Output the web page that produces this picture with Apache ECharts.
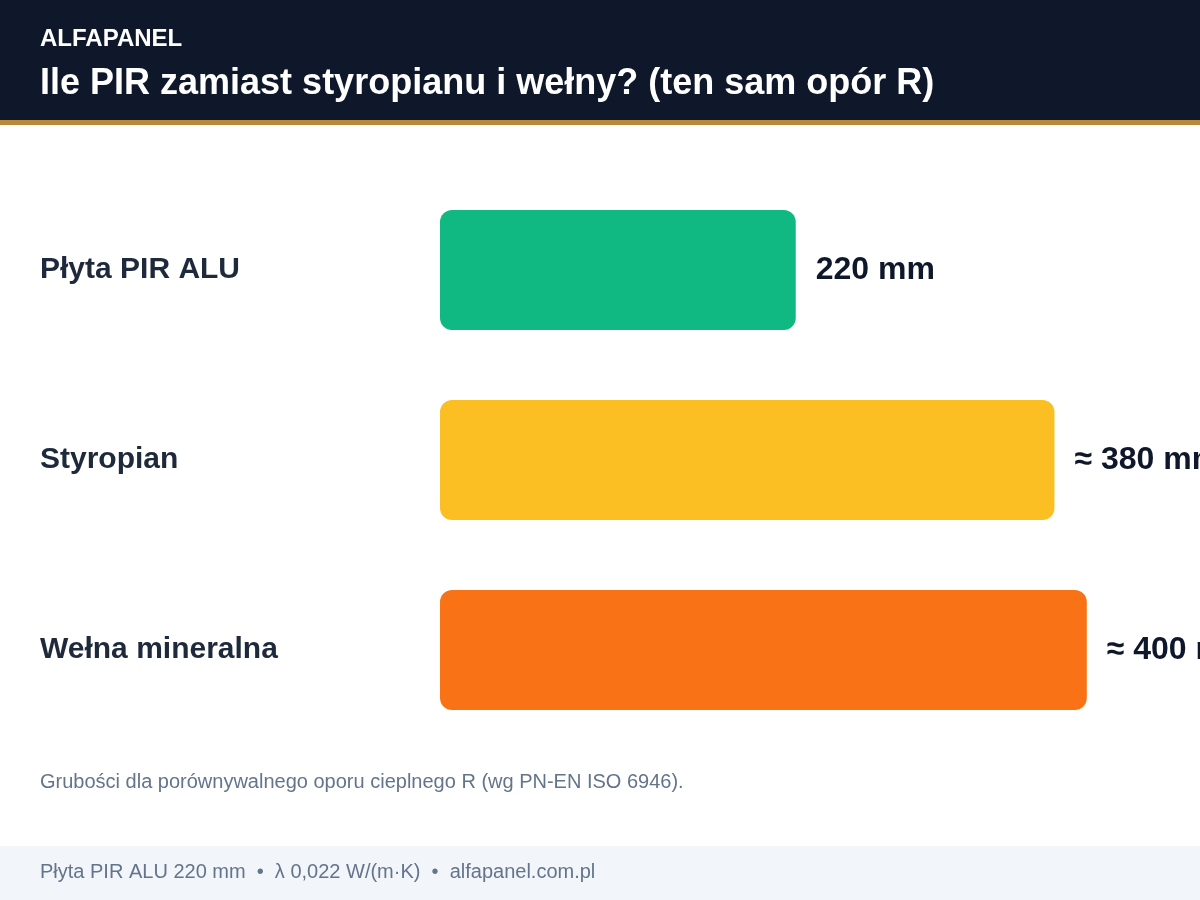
<!DOCTYPE html>
<html>
<head>
<meta charset="utf-8">
<script src="https://cdn.jsdelivr.net/npm/echarts@6/dist/echarts.min.js"></script>
<style>
  html, body { margin: 0; padding: 0; background: #fff; }
  #chart { width: 1200px; height: 900px; }
</style>
</head>
<body>
<div id="chart"></div>
<script>
  // dane
  const categories = ['Płyta PIR ALU', 'Styropian', 'Wełna mineralna']
  const thickness = [220, 380, 400]
  const valueLabels = ['220 mm', '≈ 380 mm', '≈ 400 mm']
  const barColors = ['#10b981', '#fbbf24', '#f97316']

  const font = 'Arial, Liberation Sans, Helvetica, sans-serif'

  const myChart = echarts.init(document.getElementById('chart'))

  let option = {
    backgroundColor: '#ffffff',
    textStyle: { fontFamily: font },
    graphic: [
      // pasek nagłówka
      { type: 'rect', left: 0, top: 0, shape: { width: 1200, height: 120 }, style: { fill: '#0f182b' }, z: 0 },
      { type: 'rect', left: 0, top: 120, shape: { width: 1200, height: 5 }, style: { fill: '#b8893a' }, z: 0 },
      { type: 'text', left: 40, top: 27, style: { text: 'ALFAPANEL', fill: '#ffffff', font: 'bold 24px ' + font }, z: 1 },
      { type: 'text', left: 40, top: 66, style: { text: 'Ile PIR zamiast styropianu i wełny? (ten sam opór R)', fill: '#ffffff', font: 'bold 36px ' + font }, z: 1 },
      // przypis
      { type: 'text', left: 40, top: 772, style: { text: 'Grubości dla porównywalnego oporu cieplnego R (wg PN-EN ISO 6946).', fill: '#64748b', font: '20px ' + font } },
      // stopka
      { type: 'rect', left: 0, top: 846, shape: { width: 1200, height: 54 }, style: { fill: '#f2f5f9' }, z: 0 },
      { type: 'text', left: 40, top: 862, style: { text: 'Płyta PIR ALU 220 mm  •  λ 0,022 W/(m·K)  •  alfapanel.com.pl', fill: '#64748b', font: '20px ' + font }, z: 1 }
    ],
    grid: {
      left: 440,
      right: 0,
      top: 175,
      height: 570
    },
    xAxis: {
      type: 'value',
      min: 0,
      max: 470,
      show: false
    },
    yAxis: {
      type: 'category',
      inverse: true,
      data: categories,
      axisLine: { show: false },
      axisTick: { show: false },
      splitLine: { show: false },
      axisLabel: {
        align: 'left',
        margin: 400,
        padding: [4, 0, 0, 0],
        color: '#1e293b',
        fontSize: 30,
        fontWeight: 'bold',
        fontFamily: font
      }
    },
    series: [
      {
        type: 'bar',
        barWidth: 120,
        data: thickness.map((v, i) => ({
          value: v,
          itemStyle: { color: barColors[i], borderRadius: 12 }
        })),
        label: {
          show: true,
          position: 'right',
          distance: 20,
          padding: [4, 0, 0, 0],
          color: '#0f172a',
          fontSize: 32,
          fontWeight: 'bold',
          fontFamily: font,
          formatter: (p) => valueLabels[p.dataIndex]
        },
        silent: true
      }
    ]
  }

  myChart.setOption(option)
  window.addEventListener('resize', () => {
    myChart && myChart.resize()
  })
</script>
</body>
</html>
